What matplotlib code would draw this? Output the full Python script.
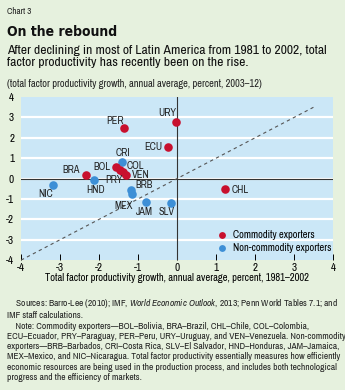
import matplotlib
matplotlib.use("Agg")
import matplotlib.pyplot as plt

# Data
com_codes = ["BRA", "PER", "BOL", "COL", "PRY", "VEN", "ECU", "URY", "CHL"]
com_x = [-2.34, -1.36, -1.57, -1.46, -1.38, -1.30, -0.23, -0.03, 1.23]
com_y = [0.20, 2.48, 0.57, 0.41, 0.31, 0.20, 1.55, 2.80, -0.50]

non_codes = ["NIC", "HND", "CRI", "BRB", "MEX", "JAM", "SLV"]
non_x = [-3.17, -2.13, -1.40, -1.19, -1.16, -0.80, -0.15]
non_y = [-0.29, -0.08, 0.82, -0.54, -0.75, -1.14, -1.19]

line_x = [-4, 3.5]
line_y = [-4, 3.5]

x_ticks = [-4, -3, -2, -1, 0, 1, 2, 3, 4]
y_ticks = [-4, -3, -2, -1, 0, 1, 2, 3, 4]

# label offsets (points), centered labels
lab_off = {"BRA": (-10.4, 3.6), "PER": (-6.5, 4.8), "BOL": (-9.8, 0.3), "COL": (11.3, 3.4),
           "PRY": (-6.5, -5.3), "VEN": (10.6, -0.2), "ECU": (-10.3, 0), "URY": (-6, 6),
           "CHL": (10.8, -0.5),
           "NIC": (-5.5, -6.5), "HND": (1.2, -7.2), "CRI": (0.7, 6.2), "BRB": (9.8, 3.4),
           "MEX": (-5.5, -8.4), "JAM": (-0.7, -7.4), "SLV": (-2.9, -6.8)}

RED = "#c8102e"
BLUE = "#3d8fd6"
BG = "#e6f1de"
PBG = "#cbe7f7"
FONT = ['Archivo Narrow', 'DejaVu Sans']

plt.rcParams['font.family'] = FONT
plt.rcParams['mathtext.fontset'] = 'custom'
plt.rcParams['mathtext.rm'] = 'Archivo Narrow'
plt.rcParams['mathtext.it'] = 'Archivo Narrow:italic'

fig = plt.figure(figsize=(3.45, 3.9), dpi=100, facecolor=BG)
ax = fig.add_axes([0.061, 0.333, 0.904, 0.418])
ax.set_facecolor(PBG)
ax.set_xlim(-4, 4)
ax.set_ylim(-4, 4)
for s in ax.spines.values():
    s.set_visible(False)
for yv in y_ticks[1:-1]:
    ax.axhline(yv, color="white", lw=1.6, zorder=1)
ax.axhline(0, color="#333333", lw=0.8, zorder=2)
ax.axvline(0, color="#333333", lw=0.8, zorder=2)
ax.plot(line_x, line_y, ls=(0, (3, 3)), color="#555555", lw=0.8, zorder=2)

ax.scatter(com_x, com_y, s=38, color=RED, zorder=4, label="Commodity exporters", linewidths=0)
ax.scatter(non_x, non_y, s=38, color=BLUE, zorder=3, label="Non-commodity exporters", linewidths=0)

for codes, xs, ys in ((com_codes, com_x, com_y), (non_codes, non_x, non_y)):
    for c, x, y in zip(codes, xs, ys):
        dx, dy = lab_off[c]
        ax.annotate(c, (x, y), xytext=(dx, dy), textcoords="offset points", ha="center",
                    va="center", fontsize=7.5, color="#222222", zorder=5)

ax.set_xticks(x_ticks)
ax.set_yticks(y_ticks)
ax.tick_params(axis="x", direction="in", length=4, width=0.7, labelsize=8, pad=2)
ax.tick_params(axis="y", length=0, labelsize=8, pad=5)
ax.set_xticklabels([str(v) for v in x_ticks])
ax.set_yticklabels([str(v) for v in y_ticks])
ax.set_xlabel("Total factor productivity growth, annual average, percent, 1981\u20132002",
              fontsize=7.6, labelpad=0)

leg = ax.legend(loc="lower right", bbox_to_anchor=(1.0, 0.035), frameon=False, fontsize=7.5,
                handletextpad=0.0, markerscale=0.8, borderaxespad=0.0, borderpad=0.15,
                labelspacing=0.3)

fig.text(0.02, 0.982, "Chart 3", fontsize=6.5, va="top", color="#222222")
fig.text(0.02, 0.935, "On the rebound", fontsize=10, fontweight="bold", va="top", color="#111111",
         family="DejaVu Sans", fontstretch="condensed")
fig.text(0.02, 0.885, "After declining in most of Latin America from 1981 to 2002, total\n"
         "factor productivity has recently been on the rise.", fontsize=9.8, va="top",
         color="#111111", linespacing=1.1)
fig.text(0.02, 0.797, "(total factor productivity growth, annual average, percent, 2003\u201312)",
         fontsize=7.5, va="top", color="#222222")

foot = ("    Sources: Barro-Lee (2010); IMF, $\\it{World\\ Economic\\ Outlook}$, 2013; Penn World Tables 7.1; and\n"
        "IMF staff calculations.\n"
        "    Note: Commodity exporters\u2014BOL\u2013Bolivia, BRA\u2013Brazil, CHL\u2013Chile, COL\u2013Colombia,\n"
        "ECU\u2013Ecuador, PRY\u2013Paraguay, PER\u2013Peru, URY\u2013Uruguay, and VEN\u2013Venezuela. Non-commodity\n"
        "exporters\u2014BRB\u2013Barbados, CRI\u2013Costa Rica, SLV\u2013El Salvador, HND\u2013Honduras, JAM\u2013Jamaica,\n"
        "MEX\u2013Mexico, and NIC\u2013Nicaragua. Total factor productivity essentially measures how efficiently\n"
        "economic resources are being used in the production process, and includes both technological\n"
        "progress and the efficiency of markets.")
fig.text(0.02, 0.238, foot, fontsize=6.8, va="top", color="#222222", linespacing=1.18)

fig.savefig("out.png", dpi=100, facecolor=BG)
